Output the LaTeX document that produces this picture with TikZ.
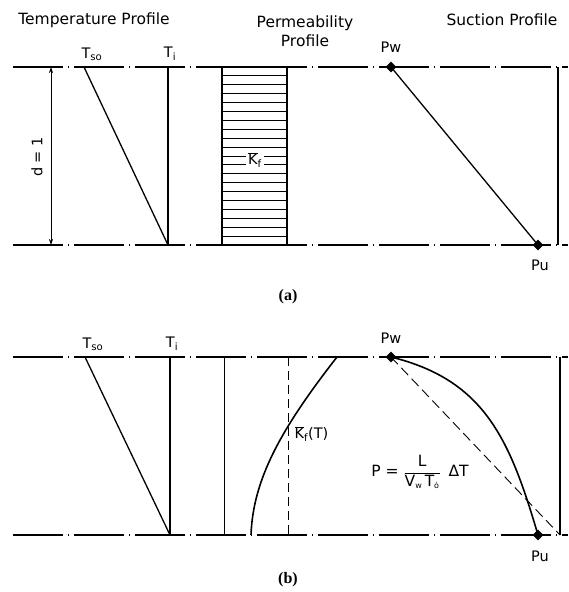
\documentclass[tikz,border=0pt]{standalone}
\usepackage{fontspec}
\setmainfont{DejaVu Sans}
\newfontfamily\capfont{Liberation Serif}
\usetikzlibrary{arrows.meta,shapes.geometric}
\tikzset{
  bound/.style={line width=1.1pt,dash pattern=on 50pt off 5pt on 1pt off 5pt},
  prof/.style={line width=1.3pt},
  pt/.style={diamond,fill=black,inner sep=0pt,minimum size=11pt},
  ttl/.style={font=\fontsize{15.5}{19}\selectfont},
  lbl/.style={font=\fontsize{14.5}{17}\selectfont},
  captxt/.style={font=\fontsize{16}{18}\selectfont\capfont\bfseries},
}
\newcommand{\kbar}{\(\overline{\mbox{K}}\)\textsubscript{f}}

\begin{document}
\begin{tikzpicture}[x=1pt,y=-1pt]
\useasboundingbox (0,0) rectangle (568,592);
\node[ttl] (ttemp) at (94,20) {Temperature Profile};
\node[ttl,align=center] (tperm) at (305,31) {Permeability\\Profile};
\node[ttl] (tsuc) at (502,20) {Suction Profile};
\foreach \y in {67,245,357,535}{\draw[bound] (13,\y) -- (568,\y);}
% (a)
\coordinate (soA) at (84,67);
\coordinate (iA) at (168,67);
\coordinate (ibA) at (168,245);
\draw[prof] (soA) -- (ibA);
\draw[prof] (iA) -- (ibA);
\node[lbl] (lsoA) at (92,54) {T\textsubscript{so}};
\node[lbl] (liA) at (170,54) {T\textsubscript{i}};
\coordinate (dT) at (51,67);
\coordinate (dB) at (51,245);
\draw[{Stealth[length=6pt,width=4pt]}-{Stealth[length=6pt,width=4pt]},line width=0.8pt] (dT) -- (dB);
\node[lbl,rotate=90] (dlab) at (37,157) {d = 1};
\draw[prof] (222,67) rectangle (287,245);
\foreach \k in {1,...,19}{\draw[line width=0.9pt] (222,{67+8.9*\k}) -- (287,{67+8.9*\k});}
\node[lbl,fill=white,inner sep=2pt] (kfA) at (255,160) {\kbar};
\node[pt] (pwA) at (391,67) {};
\node[pt] (puA) at (538,245) {};
\draw[prof] (pwA.center) -- (puA.center);
\node[lbl] (lpwA) at (391,47) {Pw};
\node[lbl] (lpuA) at (540,265) {Pu};
\draw[prof] (558,67) -- (558,245);
\node[captxt] (capA) at (288,297) {(a)};
% (b)
\coordinate (soB) at (85,357);
\coordinate (iB) at (170,357);
\coordinate (ibB) at (170,535);
\draw[prof] (soB) -- (ibB);
\draw[prof] (iB) -- (ibB);
\node[lbl] (lsoB) at (93,344) {T\textsubscript{so}};
\node[lbl] (liB) at (172,344) {T\textsubscript{i}};
\draw[line width=0.8pt] (224,357) -- (224,535);
\draw[line width=1pt,dash pattern=on 9pt off 5pt] (288,357) -- (288,535);
\coordinate (kb) at (251,535);
\coordinate (kt) at (337,357);
\draw[line width=1.6pt] (kb) .. controls (253,480) and (280,430) .. (kt);
\node[lbl,anchor=west] (kfB) at (291,434) {\kbar(T)};
\node[pt] (pwB) at (391,357) {};
\node[pt] (puB) at (538,535) {};
\coordinate (rB) at (560,535);
\draw[line width=1.6pt] (pwB.center) .. controls (485,380) and (510,440) .. (puB.center);
\draw[line width=0.9pt,dash pattern=on 10pt off 5pt] (pwB.center) -- (rB);
\draw[prof] (560,357) -- (rB);
\node[lbl] (lpwB) at (391,338) {Pw};
\node[lbl] (lpuB) at (540,556) {Pu};
\node[lbl,font=\fontsize{15.5}{18}\selectfont] (form) at (420,472) {P = \(\displaystyle\frac{\mbox{L}}{\mbox{V}_{\mbox{\footnotesize w}}\,\mbox{T}_{\mbox{\footnotesize ȯ}}}\)\enspace ΔT};
\node[captxt] (capB) at (288,580) {(b)};
\end{tikzpicture}
\end{document}
